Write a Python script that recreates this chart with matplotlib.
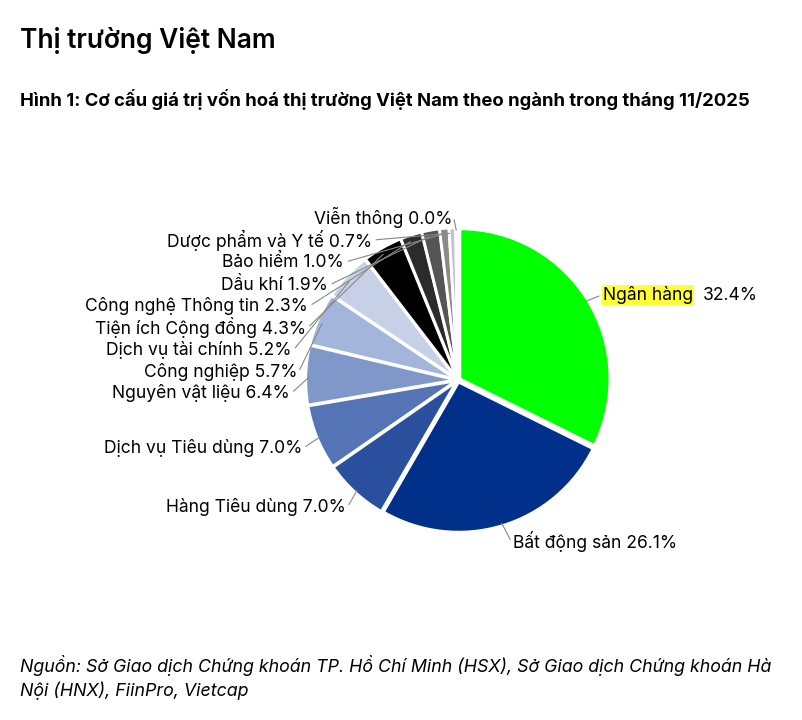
import numpy as np
import matplotlib
matplotlib.use("Agg")
import matplotlib.pyplot as plt

plt.rcParams["font.family"] = ["Inter", "DejaVu Sans"]

sectors = ["Ngân hàng", "Bất động sản", "Hàng Tiêu dùng", "Dịch vụ Tiêu dùng",
           "Nguyên vật liệu", "Công nghiệp", "Dịch vụ tài chính", "Tiện ích Cộng đồng",
           "Công nghệ Thông tin", "Dầu khí", "Bảo hiểm", "Dược phẩm và Y tế", "Viễn thông"]
shares = [32.4, 26.1, 7.0, 7.0, 6.4, 5.7, 5.2, 4.3, 2.3, 1.9, 1.0, 0.7, 0.0]
colors = ["#00ff00", "#00308a", "#2a4f9c", "#5474b5", "#7f98c9", "#a3b5da", "#c6d1e8",
          "#000000", "#2b2b2b", "#555555", "#8a8a8a", "#c4c4c4", "#dedede"]
# label anchor (pixel x, pixel y, alignment)
label_pos = [(603, 295, "left"), (513, 542, "left"), (346, 507, "right"),
             (302, 448, "right"), (290, 393, "right"), (297, 372, "right"),
             (292, 350, "right"), (306, 328, "right"), (308, 306, "right"),
             (328, 285, "right"), (344, 262, "right"), (372, 240, "right"),
             (452, 217, "right")]

W, H = 802, 720
cx, cy, R = 458, 380, 150
fig = plt.figure(figsize=(W / 100, H / 100), dpi=100)
fig.text(20 / W, 1 - 40 / H, "Thị trường Việt Nam", fontsize=19, fontweight="semibold", va="center")
fig.text(20 / W, 1 - 100 / H, "Hình 1: Cơ cấu giá trị vốn hoá thị trường Việt Nam theo ngành trong tháng 11/2025",
         fontsize=13.3, fontweight="bold", va="center")
fig.text(20 / W, 1 - 665 / H, "Nguồn: Sở Giao dịch Chứng khoán TP. Hồ Chí Minh (HSX), Sở Giao dịch Chứng khoán Hà",
         fontsize=12.8, style="italic", va="center")
fig.text(20 / W, 1 - 691 / H, "Nội (HNX), FiinPro, Vietcap", fontsize=12.8, style="italic", va="center")

ax = fig.add_axes([(cx - R) / W, 1 - (cy + R) / H, 2 * R / W, 2 * R / H])
vals = [max(s, 0.25) for s in shares]
wedges, _ = ax.pie(vals, colors=colors, startangle=90, counterclock=False,
                   explode=[0.015] * len(vals), wedgeprops=dict(edgecolor="white", linewidth=2))
ax.set_xlim(-1, 1)
ax.set_ylim(-1, 1)
ax.set_aspect("equal")
ax.axis("off")

fs = 12.6
for i, w in enumerate(wedges):
    ang = np.deg2rad((w.theta1 + w.theta2) / 2)
    ex, ey = 0.98 * np.cos(ang), 0.98 * np.sin(ang)
    px, py, ha = label_pos[i]
    tx, ty = (px - cx) / R, (cy - py) / R
    lx = tx + (0.01 if ha == "right" else -0.01)
    ax.annotate("", xy=(ex, ey), xytext=(lx, ty), arrowprops=dict(arrowstyle="-", color="#888", lw=0.8),
                annotation_clip=False)
    if i == 0:
        ax.text(tx, ty, sectors[i], ha="left", va="center", fontsize=fs, clip_on=False,
                bbox=dict(facecolor="#ffff33", edgecolor="none", pad=0.5))
        ax.text(tx + 0.667, ty, f"{shares[i]:.1f}%", ha="left", va="center", fontsize=fs, clip_on=False)
        continue
    ax.text(tx, ty, f"{sectors[i]} {shares[i]:.1f}%", ha=ha, va="center", fontsize=fs, clip_on=False)

fig.savefig("out.png", dpi=100, facecolor="white")
